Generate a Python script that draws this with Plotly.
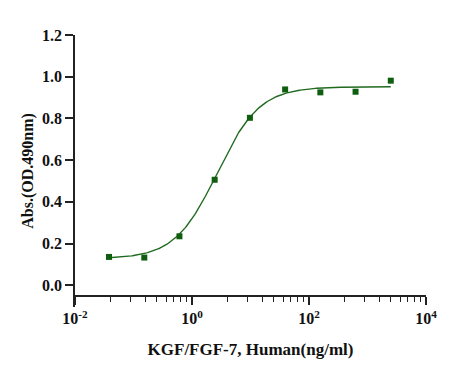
import numpy as np
import plotly.graph_objects as go

# Data
conc = [0.0381, 0.153, 0.61, 2.44, 9.77, 39.1, 156.25, 625, 2500]   # ng/ml
absorb = [0.136, 0.133, 0.235, 0.506, 0.803, 0.939, 0.925, 0.928, 0.981]

# 4PL fit parameters (estimated from the drawn curve)
fit_bottom = 0.127
fit_top = 0.952
fit_ec50 = 2.7
fit_hill = 1.2

x_tickvals = [0.01, 1, 100, 10000]
x_ticktext = ["10<sup>-2</sup>", "10<sup>0</sup>", "10<sup>2</sup>", "10<sup>4</sup>"]
y_tickvals = [0.0, 0.2, 0.4, 0.6, 0.8, 1.0, 1.2]
y_ticktext = ["0.0", "0.2", "0.4", "0.6", "0.8", "1.0", "1.2"]

xc = np.logspace(np.log10(min(conc)), np.log10(max(conc)), 300)
yc = fit_bottom + (fit_top - fit_bottom) / (1 + (fit_ec50 / xc) ** fit_hill)

# minor ticks: log 2..9 pattern stretched across each 2-decade interval
minor_vals = []
for m in [-2, 0, 2]:
    for k in range(2, 10):
        minor_vals.append(10 ** (m + 2 * np.log10(k)))

GREEN_L = "#1f6a1f"
GREEN_M = "#0f5e0f"
AX = "#222222"
FONT = "Liberation Serif"

fig = go.Figure()
fig.add_trace(go.Scatter(x=xc, y=yc, mode="lines",
                         line=dict(color=GREEN_L, width=1.4), hoverinfo="skip",
                         showlegend=False))
fig.add_trace(go.Scatter(x=conc, y=absorb, mode="markers",
                         marker=dict(symbol="square", size=6, color=GREEN_M),
                         showlegend=False))

# page body has an 8px margin; compensate so the plot lands where the reference has it
fig.update_layout(
    width=467, height=370,
    margin=dict(l=67, r=49, t=27, b=71),
    plot_bgcolor="white", paper_bgcolor="white",
    font=dict(family=FONT, size=16, color="#111111", weight="bold"),
    xaxis=dict(
        type="log", range=[-2, 4], automargin=False,
        tickmode="array", tickvals=x_tickvals, ticktext=x_ticktext,
        ticks="outside", ticklen=8, tickwidth=1.5, tickcolor=AX,
        showline=True, linecolor=AX, linewidth=1.5,
        showgrid=False, zeroline=False,
        anchor="free", position=0.039,
        minor=dict(tickvals=minor_vals, ticks="outside", ticklen=5,
                   tickwidth=1.2, tickcolor=AX, showgrid=False),
        tickfont=dict(family=FONT, size=16, weight="bold"),
        title=dict(text="KGF/FGF-7, Human(ng/ml)", standoff=16,
                   font=dict(family=FONT, size=17, weight="bold")),
    ),
    yaxis=dict(
        range=[-0.104, 1.2], automargin=False,
        tickmode="array", tickvals=y_tickvals, ticktext=y_ticktext,
        ticks="outside", ticklen=8, tickwidth=1.5, tickcolor=AX,
        showline=True, linecolor=AX, linewidth=1.5,
        showgrid=False, zeroline=False,
        tickfont=dict(family=FONT, size=16, weight="bold"),
        title=dict(text="Abs.(OD.490nm)", standoff=4,
                   font=dict(family=FONT, size=16, weight="bold")),
    ),
)

fig.write_html("out.html")
